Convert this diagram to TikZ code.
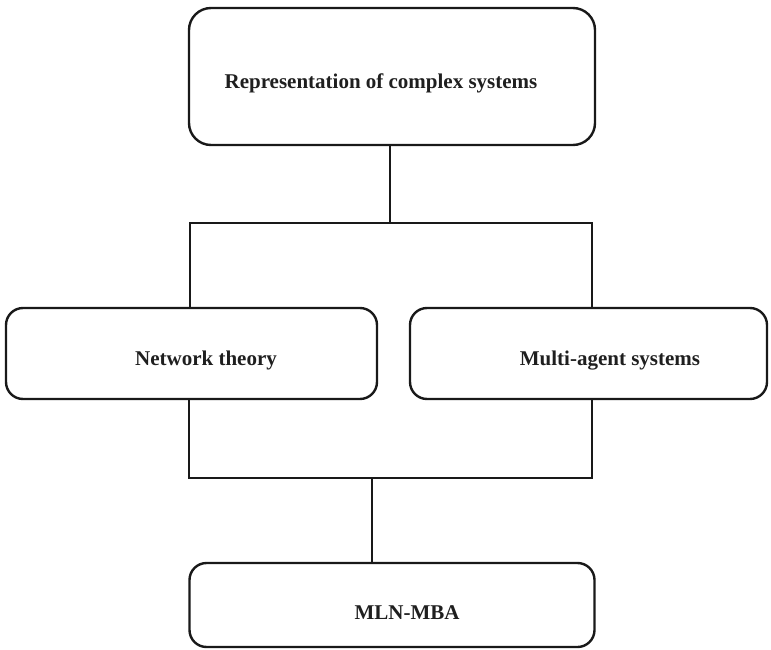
\documentclass[tikz,border=0pt]{standalone}
\usepackage{fontspec}
\setmainfont{Liberation Serif}
\begin{document}
\begin{tikzpicture}[x=1pt,y=-1pt,
  box/.style={draw=black!90,line width=2.4pt,rectangle,inner sep=0pt},
  lbl/.style={anchor=base,inner sep=0pt,text=black!88,font=\fontsize{21}{24}\selectfont\bfseries},
  wire/.style={draw=black!90,line width=2.2pt}]
\useasboundingbox (0,0) rectangle (771,650);
% boxes
\node[box,rounded corners=22pt,minimum width=406pt,minimum height=137pt] (top) at (392,76.5) {};
\node[box,rounded corners=17pt,minimum width=371pt,minimum height=91pt] (net) at (191.5,353.5) {};
\node[box,rounded corners=17pt,minimum width=357pt,minimum height=91pt] (mas) at (588.5,353.5) {};
\node[box,rounded corners=17pt,minimum width=405pt,minimum height=84pt] (mlb) at (392,605) {};
% labels
\node[lbl] (topt) at (381,89) {Representation of complex systems};
\node[lbl] (nett) at (206,365) {Network theory};
\node[lbl] (mast) at (610,365) {Multi-agent systems};
\node[lbl] (mlbt) at (407,619) {MLN-MBA};
% junction points
\coordinate (ja) at (390,223);
\coordinate (jl) at (190,223);
\coordinate (jr) at (592,223);
\coordinate (kl) at (189,478);
\coordinate (kr) at (592,478);
\coordinate (km) at (372,478);
% connectors
\draw[wire] (top.south -| ja) -- (ja);
\draw[wire] (net.north -| jl) -- (jl) -- (jr) -- (mas.north -| jr);
\draw[wire] (net.south -| kl) -- (kl) -- (kr) -- (mas.south -| kr);
\draw[wire] (km) -- (mlb.north -| km);
\end{tikzpicture}
\end{document}
